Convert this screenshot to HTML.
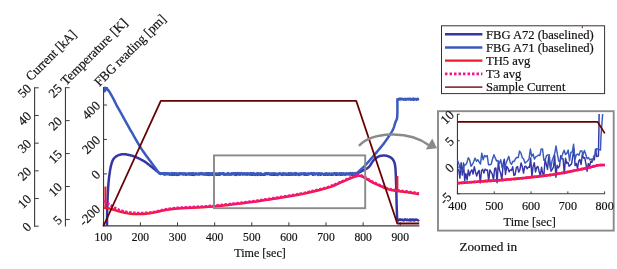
<!DOCTYPE html>
<html><head><meta charset="utf-8"><style>
html,body{margin:0;padding:0;background:#fff;}
svg{display:block;will-change:transform;}
text{font-family:"Liberation Serif", serif;fill:#111;stroke:#111;stroke-width:0.2px;}
</style></head><body>
<svg width="617" height="269" viewBox="0 0 617 269">
<line x1="102.8" y1="225.9" x2="419.4" y2="225.9" stroke="#3a3a3a" stroke-width="1.1"/>
<line x1="103.30" y1="225.9" x2="103.30" y2="222.3" stroke="#3a3a3a" stroke-width="1"/>
<text x="103.30" y="240.9" font-size="12.6" text-anchor="middle" textLength="17.4" lengthAdjust="spacingAndGlyphs" >100</text>
<line x1="140.42" y1="225.9" x2="140.42" y2="222.3" stroke="#3a3a3a" stroke-width="1"/>
<text x="140.42" y="240.9" font-size="12.6" text-anchor="middle" textLength="17.4" lengthAdjust="spacingAndGlyphs" >200</text>
<line x1="177.54" y1="225.9" x2="177.54" y2="222.3" stroke="#3a3a3a" stroke-width="1"/>
<text x="177.54" y="240.9" font-size="12.6" text-anchor="middle" textLength="17.4" lengthAdjust="spacingAndGlyphs" >300</text>
<line x1="214.66" y1="225.9" x2="214.66" y2="222.3" stroke="#3a3a3a" stroke-width="1"/>
<text x="214.66" y="240.9" font-size="12.6" text-anchor="middle" textLength="17.4" lengthAdjust="spacingAndGlyphs" >400</text>
<line x1="251.78" y1="225.9" x2="251.78" y2="222.3" stroke="#3a3a3a" stroke-width="1"/>
<text x="251.78" y="240.9" font-size="12.6" text-anchor="middle" textLength="17.4" lengthAdjust="spacingAndGlyphs" >500</text>
<line x1="288.90" y1="225.9" x2="288.90" y2="222.3" stroke="#3a3a3a" stroke-width="1"/>
<text x="288.90" y="240.9" font-size="12.6" text-anchor="middle" textLength="17.4" lengthAdjust="spacingAndGlyphs" >600</text>
<line x1="326.02" y1="225.9" x2="326.02" y2="222.3" stroke="#3a3a3a" stroke-width="1"/>
<text x="326.02" y="240.9" font-size="12.6" text-anchor="middle" textLength="17.4" lengthAdjust="spacingAndGlyphs" >700</text>
<line x1="363.14" y1="225.9" x2="363.14" y2="222.3" stroke="#3a3a3a" stroke-width="1"/>
<text x="363.14" y="240.9" font-size="12.6" text-anchor="middle" textLength="17.4" lengthAdjust="spacingAndGlyphs" >800</text>
<line x1="400.26" y1="225.9" x2="400.26" y2="222.3" stroke="#3a3a3a" stroke-width="1"/>
<text x="400.26" y="240.9" font-size="12.6" text-anchor="middle" textLength="17.4" lengthAdjust="spacingAndGlyphs" >900</text>
<text x="260.0" y="256.7" font-size="13.2" text-anchor="middle" textLength="51.6" lengthAdjust="spacingAndGlyphs" >Time [sec]</text>
<line x1="103.55" y1="87.0" x2="103.55" y2="226.4" stroke="#3a3a3a" stroke-width="1.1"/>
<line x1="103.55" y1="105.00" x2="106.95" y2="105.00" stroke="#3a3a3a" stroke-width="1"/>
<text x="101.05" y="106.5" font-size="13.0" text-anchor="end" transform="rotate(-45 101.05 106.5)" >400</text>
<line x1="103.55" y1="139.45" x2="106.95" y2="139.45" stroke="#3a3a3a" stroke-width="1"/>
<text x="101.05" y="140.95" font-size="13.0" text-anchor="end" transform="rotate(-45 101.05 140.95)" >200</text>
<line x1="103.55" y1="173.90" x2="106.95" y2="173.90" stroke="#3a3a3a" stroke-width="1"/>
<text x="101.05" y="175.4" font-size="13.0" text-anchor="end" transform="rotate(-45 101.05 175.4)" >0</text>
<line x1="103.55" y1="208.35" x2="106.95" y2="208.35" stroke="#3a3a3a" stroke-width="1"/>
<text x="101.05" y="209.85" font-size="13.0" text-anchor="end" transform="rotate(-45 101.05 209.85)" >-200</text>
<line x1="65.45" y1="87.2" x2="65.45" y2="226.4" stroke="#3a3a3a" stroke-width="1.1"/>
<line x1="65.45" y1="87.70" x2="69.65" y2="87.70" stroke="#3a3a3a" stroke-width="1"/>
<text x="62.95" y="89.2" font-size="13.0" text-anchor="end" transform="rotate(-45 62.95 89.2)" >25</text>
<line x1="65.45" y1="120.64" x2="69.65" y2="120.64" stroke="#3a3a3a" stroke-width="1"/>
<text x="62.95" y="122.14" font-size="13.0" text-anchor="end" transform="rotate(-45 62.95 122.14)" >20</text>
<line x1="65.45" y1="153.57" x2="69.65" y2="153.57" stroke="#3a3a3a" stroke-width="1"/>
<text x="62.95" y="155.07" font-size="13.0" text-anchor="end" transform="rotate(-45 62.95 155.07)" >15</text>
<line x1="65.45" y1="186.51" x2="69.65" y2="186.51" stroke="#3a3a3a" stroke-width="1"/>
<text x="62.95" y="188.01" font-size="13.0" text-anchor="end" transform="rotate(-45 62.95 188.01)" >10</text>
<line x1="65.45" y1="219.45" x2="69.65" y2="219.45" stroke="#3a3a3a" stroke-width="1"/>
<text x="62.95" y="220.95" font-size="13.0" text-anchor="end" transform="rotate(-45 62.95 220.95)" >5</text>
<line x1="34.6" y1="87.3" x2="34.6" y2="226.7" stroke="#3a3a3a" stroke-width="1.1"/>
<line x1="34.6" y1="87.80" x2="38.7" y2="87.80" stroke="#3a3a3a" stroke-width="1"/>
<text x="32.1" y="89.3" font-size="13.0" text-anchor="end" transform="rotate(-45 32.1 89.3)" >50</text>
<line x1="34.6" y1="115.48" x2="38.7" y2="115.48" stroke="#3a3a3a" stroke-width="1"/>
<text x="32.1" y="116.98" font-size="13.0" text-anchor="end" transform="rotate(-45 32.1 116.98)" >40</text>
<line x1="34.6" y1="143.16" x2="38.7" y2="143.16" stroke="#3a3a3a" stroke-width="1"/>
<text x="32.1" y="144.66" font-size="13.0" text-anchor="end" transform="rotate(-45 32.1 144.66)" >30</text>
<line x1="34.6" y1="170.84" x2="38.7" y2="170.84" stroke="#3a3a3a" stroke-width="1"/>
<text x="32.1" y="172.34" font-size="13.0" text-anchor="end" transform="rotate(-45 32.1 172.34)" >20</text>
<line x1="34.6" y1="198.52" x2="38.7" y2="198.52" stroke="#3a3a3a" stroke-width="1"/>
<text x="32.1" y="200.02" font-size="13.0" text-anchor="end" transform="rotate(-45 32.1 200.02)" >10</text>
<line x1="34.6" y1="226.20" x2="38.7" y2="226.20" stroke="#3a3a3a" stroke-width="1"/>
<text x="32.1" y="227.7" font-size="13.0" text-anchor="end" transform="rotate(-45 32.1 227.7)" >0</text>
<text x="31" y="81.5" font-size="13.2" text-anchor="start" transform="rotate(-45 31 81.5)" textLength="65.4" lengthAdjust="spacingAndGlyphs" >Current [kA]</text>
<text x="66" y="86" font-size="13.2" text-anchor="start" transform="rotate(-45 66 86)" >Temperature [K]</text>
<text x="99.5" y="87" font-size="13.2" text-anchor="start" transform="rotate(-45 99.5 87)" textLength="95.2" lengthAdjust="spacingAndGlyphs" >FBG reading [pm]</text>
<polyline points="107.00,226.00 107.01,224.79 107.02,223.22 107.03,221.35 107.05,219.25 107.07,217.00 107.10,214.66 107.14,212.30 107.20,210.00 107.27,207.64 107.35,205.09 107.45,202.44 107.55,199.75 107.66,197.09 107.77,194.53 107.89,192.14 108.00,190.00 108.11,188.10 108.22,186.39 108.34,184.83 108.46,183.38 108.58,182.00 108.71,180.67 108.85,179.35 109.00,178.00 109.16,176.62 109.34,175.26 109.53,173.91 109.72,172.61 109.92,171.35 110.11,170.15 110.31,169.03 110.50,168.00 110.69,167.07 110.88,166.22 111.06,165.44 111.25,164.73 111.44,164.07 111.62,163.46 111.81,162.87 112.00,162.30 112.18,161.77 112.35,161.29 112.52,160.85 112.69,160.44 112.86,160.07 113.05,159.71 113.26,159.35 113.50,159.00 113.76,158.65 114.04,158.32 114.34,158.00 114.66,157.69 114.98,157.40 115.32,157.12 115.66,156.86 116.00,156.60 116.34,156.36 116.68,156.12 117.03,155.91 117.38,155.70 117.75,155.51 118.14,155.32 118.55,155.16 119.00,155.00 119.48,154.85 120.00,154.71 120.54,154.58 121.10,154.46 121.67,154.36 122.25,154.28 122.83,154.23 123.40,154.20 123.96,154.20 124.51,154.23 125.06,154.28 125.61,154.36 126.18,154.45 126.76,154.55 127.37,154.67 128.00,154.80 128.66,154.94 129.36,155.08 130.07,155.24 130.80,155.42 131.54,155.61 132.29,155.82 133.05,156.05 133.80,156.30 134.56,156.58 135.33,156.88 136.12,157.20 136.91,157.54 137.69,157.89 138.48,158.25 139.25,158.63 140.00,159.00 140.74,159.38 141.48,159.77 142.21,160.18 142.94,160.59 143.65,161.01 144.35,161.43 145.03,161.86 145.70,162.30 146.35,162.75 146.98,163.21 147.60,163.68 148.21,164.16 148.80,164.63 149.38,165.10 149.94,165.56 150.50,166.00 151.04,166.43 151.57,166.84 152.08,167.25 152.58,167.66 153.07,168.05 153.55,168.44 154.03,168.82 154.50,169.20 154.96,169.58 155.42,169.95 155.87,170.32 156.31,170.69 156.75,171.04 157.17,171.38 157.59,171.70 158.00,172.00 158.42,172.29 158.86,172.56 159.29,172.83 159.72,173.07 160.12,173.30 160.47,173.50 160.77,173.67 161.00,173.80 161.00,173.65 161.60,173.73 162.20,173.57 162.80,173.78 163.40,173.94 164.00,173.93 164.60,174.56 165.20,173.91 165.80,174.20 166.40,173.75 167.00,173.99 167.60,173.53 168.20,173.85 168.80,173.52 169.40,174.53 170.00,174.27 170.60,173.77 171.20,174.16 171.80,174.81 172.40,173.65 173.00,174.65 173.60,174.11 174.20,174.19 174.80,174.67 175.40,174.05 176.00,174.21 176.60,174.46 177.20,174.88 177.80,173.98 178.40,174.67 179.00,174.49 179.60,174.39 180.20,174.07 180.80,173.99 181.40,173.58 182.00,173.68 182.60,173.60 183.20,174.54 183.80,173.86 184.40,173.73 185.00,173.62 185.60,174.68 186.20,174.72 186.80,174.44 187.40,173.89 188.00,173.84 188.60,173.91 189.20,174.14 189.80,173.72 190.40,174.12 191.00,173.87 191.60,174.85 192.20,174.86 192.80,174.27 193.40,173.84 194.00,174.85 194.60,173.93 195.20,174.00 195.80,173.50 196.40,174.03 197.00,174.16 197.60,174.20 198.20,173.78 198.80,174.21 199.40,173.51 200.00,173.87 200.60,173.63 201.20,174.06 201.80,173.56 202.40,173.53 203.00,173.93 203.60,173.83 204.20,174.32 204.80,174.24 205.40,174.55 206.00,174.42 206.60,174.50 207.20,174.73 207.80,174.05 208.40,173.96 209.00,174.88 209.60,173.71 210.20,174.51 210.80,174.40 211.40,173.56 212.00,174.67 212.60,174.75 213.20,174.38 213.80,174.53 214.40,174.64 215.00,173.70 215.60,174.23 216.20,174.21 216.80,174.67 217.40,174.63 218.00,174.66 218.60,174.32 219.20,174.75 219.80,174.46 220.40,174.47 221.00,173.82 221.60,173.54 222.20,173.69 222.80,174.00 223.40,173.65 224.00,174.67 224.60,174.28 225.20,174.38 225.80,174.38 226.40,174.45 227.00,174.19 227.60,173.50 228.20,174.62 228.80,174.55 229.40,174.20 230.00,174.25 230.60,174.42 231.20,173.59 231.80,174.53 232.40,173.85 233.00,173.60 233.60,173.87 234.20,174.52 234.80,173.79 235.40,174.54 236.00,174.87 236.60,174.19 237.20,174.04 237.80,174.17 238.40,174.46 239.00,174.57 239.60,174.36 240.20,174.40 240.80,173.61 241.40,173.71 242.00,173.86 242.60,174.54 243.20,173.93 243.80,174.29 244.40,173.52 245.00,173.58 245.60,173.88 246.20,174.44 246.80,174.47 247.40,174.45 248.00,173.91 248.60,174.22 249.20,174.15 249.80,174.15 250.40,173.67 251.00,174.75 251.60,173.78 252.20,174.87 252.80,174.81 253.40,173.52 254.00,174.14 254.60,174.65 255.20,174.86 255.80,174.13 256.40,173.88 257.00,173.79 257.60,174.82 258.20,173.79 258.80,174.31 259.40,173.70 260.00,174.23 260.60,174.83 261.20,173.69 261.80,174.65 262.40,174.21 263.00,174.74 263.60,174.48 264.20,173.82 264.80,174.76 265.40,174.18 266.00,173.53 266.60,173.51 267.20,174.19 267.80,174.13 268.40,173.92 269.00,173.70 269.60,173.98 270.20,173.94 270.80,174.68 271.40,173.50 272.00,174.55 272.60,174.67 273.20,173.67 273.80,174.80 274.40,174.50 275.00,174.76 275.60,173.91 276.20,174.02 276.80,174.05 277.40,174.90 278.00,174.32 278.60,174.00 279.20,174.10 279.80,173.89 280.40,173.57 281.00,173.64 281.60,174.67 282.20,173.90 282.80,174.81 283.40,173.85 284.00,173.87 284.60,174.22 285.20,173.77 285.80,174.02 286.40,174.84 287.00,174.74 287.60,174.64 288.20,174.38 288.80,174.78 289.40,174.82 290.00,174.27 290.60,174.51 291.20,173.57 291.80,174.53 292.40,174.13 293.00,174.55 293.60,174.40 294.20,173.90 294.80,173.57 295.40,174.80 296.00,173.68 296.60,174.16 297.20,173.98 297.80,173.92 298.40,174.53 299.00,174.87 299.60,173.86 300.20,174.42 300.80,173.92 301.40,174.28 302.00,174.05 302.60,173.73 303.20,173.73 303.80,173.79 304.40,174.77 305.00,174.20 305.60,173.81 306.20,174.77 306.80,174.90 307.40,174.13 308.00,173.70 308.60,173.77 309.20,173.63 309.80,173.98 310.40,173.63 311.00,173.83 311.60,173.86 312.20,174.30 312.80,174.74 313.40,174.55 314.00,174.08 314.60,174.08 315.20,174.23 315.80,174.03 316.40,173.97 317.00,173.59 317.60,173.89 318.20,174.85 318.80,173.68 319.40,174.20 320.00,174.38 320.60,174.71 321.20,173.80 321.80,173.88 322.40,173.85 323.00,174.06 323.60,174.12 324.20,174.84 324.80,174.69 325.40,174.72 326.00,173.53 326.60,173.55 327.20,174.49 327.80,174.75 328.40,174.16 329.00,174.32 329.60,173.50 330.20,174.05 330.80,174.80 331.40,174.66 332.00,174.70 332.60,174.86 333.20,173.85 333.80,173.65 334.40,173.72 335.00,174.23 335.60,174.45 336.20,174.82 336.80,174.51 337.40,174.41 338.00,174.57 338.60,174.14 339.20,174.27 339.80,173.56 340.40,174.60 341.00,173.83 341.60,174.79 342.20,174.40 342.80,173.93 343.40,173.68 344.00,173.85 344.60,174.39 345.20,174.48 345.80,173.66 346.40,173.60 347.00,174.23 347.60,174.32 348.20,174.04 348.80,173.81 349.40,174.34 350.00,173.51 350.60,173.92 351.20,174.14 351.80,174.84 352.40,174.40 353.00,174.74 353.60,174.17 354.20,173.83 354.80,173.85 355.40,174.84 356.00,174.49 357.00,173.50 357.37,173.32 357.86,173.08 358.44,172.80 359.09,172.49 359.79,172.14 360.52,171.78 361.26,171.39 362.00,171.00 362.76,170.60 363.59,170.20 364.45,169.78 365.34,169.33 366.22,168.86 367.07,168.35 367.87,167.80 368.60,167.20 369.26,166.52 369.89,165.74 370.47,164.91 371.03,164.05 371.55,163.20 372.05,162.38 372.53,161.64 373.00,161.00 373.44,160.47 373.83,160.00 374.18,159.60 374.52,159.24 374.86,158.91 375.21,158.60 375.59,158.31 376.00,158.00 376.46,157.69 376.94,157.39 377.45,157.11 377.97,156.84 378.49,156.59 379.01,156.36 379.52,156.17 380.00,156.00 380.46,155.87 380.91,155.77 381.35,155.70 381.78,155.66 382.21,155.63 382.64,155.61 383.07,155.61 383.50,155.60 383.93,155.59 384.37,155.59 384.79,155.60 385.22,155.62 385.66,155.65 386.10,155.71 386.54,155.79 387.00,155.90 387.48,156.04 387.98,156.20 388.49,156.38 389.01,156.59 389.52,156.81 390.01,157.06 390.47,157.32 390.90,157.60 391.29,157.89 391.67,158.20 392.02,158.53 392.35,158.88 392.66,159.24 392.96,159.63 393.24,160.05 393.50,160.50 393.75,160.96 393.97,161.43 394.18,161.92 394.37,162.43 394.54,162.99 394.71,163.59 394.86,164.26 395.00,165.00 395.13,165.77 395.23,166.54 395.33,167.35 395.41,168.22 395.48,169.19 395.55,170.29 395.62,171.55 395.70,173.00 395.78,174.67 395.86,176.55 395.94,178.58 396.01,180.75 396.09,183.01 396.16,185.33 396.23,187.67 396.30,190.00 396.37,192.43 396.43,195.03 396.49,197.73 396.55,200.45 396.61,203.12 396.67,205.65 396.73,207.97 396.80,210.00 396.86,211.78 396.92,213.39 396.97,214.85 397.03,216.14 397.10,217.28 397.18,218.27 397.28,219.11 397.40,219.80 397.56,220.28 397.77,220.51 398.00,220.55 398.24,220.46 398.47,220.30 398.69,220.11 398.87,219.96 399.00,219.90 399.60,219.67 400.20,219.33 400.80,219.90 401.40,220.11 402.00,219.80 402.60,219.61 403.20,220.10 403.80,220.41 404.40,219.57 405.00,219.34 405.60,219.71 406.20,219.80 406.80,220.12 407.40,219.54 408.00,220.26 408.60,220.19 409.20,219.91 409.80,219.55 410.40,220.46 411.00,219.67 411.60,220.28 412.20,219.58 412.80,219.57 413.40,220.21 414.00,219.65 414.60,220.44 415.20,219.89 415.80,219.52 416.40,219.57 417.00,219.80 417.60,220.10 418.20,220.44 418.80,219.48" fill="none" stroke="#3535a5" stroke-width="2.5" stroke-linejoin="round" stroke-linecap="butt" />
<polyline points="104.00,87.60 104.18,87.65 104.42,87.72 104.70,87.79 105.02,87.87 105.35,87.98 105.69,88.10 106.01,88.24 106.30,88.40 106.58,88.59 106.85,88.81 107.12,89.05 107.39,89.31 107.66,89.58 107.91,89.85 108.16,90.13 108.40,90.40 108.61,90.64 108.79,90.85 108.94,91.05 109.10,91.26 109.27,91.50 109.46,91.81 109.70,92.20 110.00,92.70 110.37,93.33 110.80,94.08 111.27,94.93 111.77,95.83 112.28,96.75 112.78,97.68 113.26,98.57 113.70,99.40 114.09,100.17 114.46,100.91 114.81,101.64 115.14,102.35 115.48,103.06 115.83,103.79 116.20,104.53 116.60,105.30 117.03,106.10 117.49,106.92 117.96,107.75 118.45,108.60 118.94,109.45 119.44,110.31 119.92,111.16 120.40,112.00 120.87,112.84 121.33,113.67 121.79,114.51 122.26,115.35 122.72,116.19 123.18,117.03 123.64,117.86 124.10,118.70 124.55,119.52 124.99,120.32 125.42,121.11 125.86,121.90 126.30,122.71 126.77,123.56 127.27,124.45 127.80,125.40 128.37,126.41 128.96,127.45 129.57,128.53 130.21,129.64 130.87,130.80 131.56,131.99 132.27,133.23 133.00,134.50 133.78,135.86 134.60,137.31 135.46,138.83 136.34,140.38 137.22,141.91 138.09,143.40 138.92,144.81 139.70,146.10 140.43,147.27 141.13,148.36 141.79,149.37 142.44,150.34 143.08,151.27 143.71,152.17 144.35,153.08 145.00,154.00 145.66,154.92 146.32,155.83 146.97,156.71 147.63,157.59 148.28,158.45 148.93,159.31 149.57,160.16 150.20,161.00 150.82,161.84 151.44,162.67 152.05,163.50 152.66,164.31 153.25,165.12 153.84,165.92 154.43,166.71 155.00,167.50 155.59,168.31 156.21,169.18 156.84,170.05 157.45,170.91 158.02,171.71 158.54,172.43 158.97,173.04 159.30,173.50 159.50,173.55 160.10,173.31 160.70,174.01 161.30,173.20 161.90,173.85 162.50,173.61 163.10,173.18 163.70,173.81 164.30,173.15 164.90,173.71 165.50,173.20 166.10,173.23 166.70,173.69 167.30,174.26 167.90,173.27 168.50,173.41 169.10,173.98 169.70,174.43 170.30,173.91 170.90,173.66 171.50,174.47 172.10,173.17 172.70,174.30 173.30,173.51 173.90,173.30 174.50,173.26 175.10,173.53 175.70,174.24 176.30,173.35 176.90,173.91 177.50,173.99 178.10,173.62 178.70,173.87 179.30,173.19 179.90,173.18 180.50,173.39 181.10,174.05 181.70,173.70 182.30,173.54 182.90,173.92 183.50,173.73 184.10,173.52 184.70,174.21 185.30,174.08 185.90,173.44 186.50,173.90 187.10,173.84 187.70,174.33 188.30,174.12 188.90,173.50 189.50,174.47 190.10,173.27 190.70,173.69 191.30,174.16 191.90,173.31 192.50,173.78 193.10,173.15 193.70,174.04 194.30,174.17 194.90,173.90 195.50,174.33 196.10,173.54 196.70,174.07 197.30,173.93 197.90,173.91 198.50,173.74 199.10,174.28 199.70,174.42 200.30,173.76 200.90,174.03 201.50,173.18 202.10,174.08 202.70,174.01 203.30,174.49 203.90,174.25 204.50,173.50 205.10,173.64 205.70,174.04 206.30,173.13 206.90,173.75 207.50,173.34 208.10,173.26 208.70,173.18 209.30,174.18 209.90,173.28 210.50,173.45 211.10,173.65 211.70,174.32 212.30,173.21 212.90,173.73 213.50,173.87 214.10,174.34 214.70,174.25 215.30,174.31 215.90,173.49 216.50,173.68 217.10,173.60 217.70,174.34 218.30,174.44 218.90,173.31 219.50,173.35 220.10,173.42 220.70,173.43 221.30,173.78 221.90,173.92 222.50,173.47 223.10,173.11 223.70,173.69 224.30,173.62 224.90,173.89 225.50,174.43 226.10,174.07 226.70,173.82 227.30,173.96 227.90,174.05 228.50,173.18 229.10,174.36 229.70,174.19 230.30,174.32 230.90,174.22 231.50,173.65 232.10,173.66 232.70,173.24 233.30,173.99 233.90,173.19 234.50,173.19 235.10,173.39 235.70,173.33 236.30,173.58 236.90,173.17 237.50,173.10 238.10,173.31 238.70,173.24 239.30,173.61 239.90,173.14 240.50,174.32 241.10,173.96 241.70,173.31 242.30,173.45 242.90,173.59 243.50,173.61 244.10,173.27 244.70,174.29 245.30,174.49 245.90,173.75 246.50,173.78 247.10,173.22 247.70,173.24 248.30,173.58 248.90,173.47 249.50,174.26 250.10,173.33 250.70,173.13 251.30,174.43 251.90,173.84 252.50,173.31 253.10,173.86 253.70,173.14 254.30,173.84 254.90,174.47 255.50,174.31 256.10,174.07 256.70,173.47 257.30,173.61 257.90,173.33 258.50,174.18 259.10,173.85 259.70,174.19 260.30,173.56 260.90,173.41 261.50,174.24 262.10,174.48 262.70,174.29 263.30,174.23 263.90,174.25 264.50,174.14 265.10,173.42 265.70,173.82 266.30,173.60 266.90,173.14 267.50,173.14 268.10,173.49 268.70,173.46 269.30,174.07 269.90,174.44 270.50,173.73 271.10,174.41 271.70,174.48 272.30,174.44 272.90,173.61 273.50,173.41 274.10,173.42 274.70,173.38 275.30,173.39 275.90,173.97 276.50,174.36 277.10,174.28 277.70,173.77 278.30,174.01 278.90,174.22 279.50,173.22 280.10,174.02 280.70,174.37 281.30,174.20 281.90,174.15 282.50,173.77 283.10,173.35 283.70,174.20 284.30,173.57 284.90,174.22 285.50,174.46 286.10,173.65 286.70,173.66 287.30,174.43 287.90,174.11 288.50,173.34 289.10,173.28 289.70,173.31 290.30,174.37 290.90,174.23 291.50,173.30 292.10,174.26 292.70,174.47 293.30,174.02 293.90,173.59 294.50,173.87 295.10,173.28 295.70,173.12 296.30,174.46 296.90,174.01 297.50,173.84 298.10,174.41 298.70,173.71 299.30,174.32 299.90,174.26 300.50,173.40 301.10,173.45 301.70,173.51 302.30,173.44 302.90,173.92 303.50,173.46 304.10,173.69 304.70,173.28 305.30,174.37 305.90,173.60 306.50,173.74 307.10,173.92 307.70,174.37 308.30,173.69 308.90,174.38 309.50,173.80 310.10,173.84 310.70,173.83 311.30,173.13 311.90,173.72 312.50,173.36 313.10,173.11 313.70,174.22 314.30,173.34 314.90,173.76 315.50,174.12 316.10,173.88 316.70,173.56 317.30,173.83 317.90,173.88 318.50,174.20 319.10,173.25 319.70,173.88 320.30,173.45 320.90,173.49 321.50,174.18 322.10,173.81 322.70,173.89 323.30,174.16 323.90,174.38 324.50,173.72 325.10,173.96 325.70,173.81 326.30,173.82 326.90,174.07 327.50,173.73 328.10,173.85 328.70,173.77 329.30,174.42 329.90,174.08 330.50,174.33 331.10,174.42 331.70,173.46 332.30,173.88 332.90,174.42 333.50,174.28 334.10,173.29 334.70,173.27 335.30,173.72 335.90,173.20 336.50,173.44 337.10,173.20 337.70,174.04 338.30,174.20 338.90,174.36 339.50,173.32 340.10,174.10 340.70,174.02 341.30,173.30 341.90,174.34 342.50,174.45 343.10,173.41 343.70,174.43 344.30,173.66 344.90,173.78 345.50,174.49 346.10,174.27 346.70,173.33 347.30,173.70 347.90,173.82 348.50,173.57 349.10,173.37 349.70,173.55 350.30,174.11 350.90,173.13 351.50,173.88 352.10,173.72 352.70,173.13 353.30,173.56 353.90,173.97 354.50,173.82 355.10,173.19 355.70,174.48 356.50,173.40 356.92,173.04 357.46,172.57 358.11,172.01 358.84,171.38 359.62,170.70 360.42,169.98 361.22,169.24 362.00,168.50 362.74,167.77 363.47,167.06 364.20,166.33 364.95,165.56 365.75,164.72 366.61,163.80 367.55,162.77 368.60,161.60 369.80,160.23 371.17,158.66 372.64,156.96 374.17,155.18 375.69,153.38 377.16,151.65 378.51,150.03 379.70,148.60 380.72,147.37 381.61,146.28 382.41,145.29 383.14,144.36 383.83,143.46 384.52,142.54 385.24,141.57 386.00,140.50 386.83,139.33 387.69,138.10 388.58,136.82 389.46,135.53 390.31,134.22 391.12,132.94 391.85,131.69 392.50,130.50 393.05,129.34 393.53,128.19 393.94,127.06 394.30,125.95 394.62,124.88 394.92,123.86 395.21,122.89 395.50,122.00 395.78,121.28 396.05,120.76 396.30,120.35 396.53,119.97 396.73,119.51 396.91,118.89 397.07,118.02 397.20,116.80 397.30,115.07 397.36,112.86 397.39,110.33 397.41,107.67 397.41,105.06 397.40,102.65 397.39,100.64 397.40,99.20 398.00,99.55 398.60,99.77 399.20,98.73 399.80,98.92 400.40,98.65 401.00,99.53 401.60,98.92 402.20,98.76 402.80,99.11 403.40,99.69 404.00,99.58 404.60,98.91 405.20,98.78 405.80,99.70 406.40,99.28 407.00,99.44 407.60,98.71 408.20,98.67 408.80,99.43 409.40,99.11 410.00,98.69 410.60,99.73 411.20,99.36 411.80,99.56 412.40,98.70 413.00,99.63 413.60,98.68 414.20,99.64 414.80,99.14 415.40,99.01 416.00,99.26 416.60,99.71 417.20,98.92 417.80,98.76 418.40,99.23 419.00,98.89" fill="none" stroke="#3a5bbd" stroke-width="2.5" stroke-linejoin="round" stroke-linecap="butt" />
<polygon points="103.9,87.0 107.9,87.1 108.3,89.6 106.6,90.6 105.2,92.6 104.0,92.6" fill="#3a5bbd"/>
<polyline points="104.20,207.80 104.62,207.85 105.14,207.89 105.77,207.94 106.48,208.01 107.26,208.10 108.12,208.23 109.03,208.39 110.00,208.60 111.03,208.87 112.12,209.21 113.29,209.59 114.53,210.00 115.82,210.42 117.16,210.84 118.56,211.24 120.00,211.60 121.49,211.95 123.04,212.32 124.64,212.68 126.29,213.04 127.99,213.36 129.75,213.64 131.55,213.86 133.40,214.00 135.28,214.08 137.18,214.10 139.12,214.08 141.12,214.01 143.19,213.89 145.35,213.71 147.61,213.48 150.00,213.20 152.42,212.83 154.82,212.35 157.27,211.80 159.84,211.21 162.59,210.61 165.61,210.02 168.95,209.47 172.70,209.00 176.95,208.61 181.68,208.28 186.78,207.99 192.11,207.71 197.57,207.44 203.04,207.14 208.39,206.80 213.50,206.40 218.46,205.94 223.42,205.44 228.35,204.91 233.24,204.35 238.07,203.77 242.82,203.18 247.47,202.59 252.00,202.00 256.48,201.39 260.96,200.75 265.38,200.10 269.71,199.44 273.88,198.78 277.85,198.15 281.57,197.55 285.00,197.00 288.03,196.52 290.66,196.10 293.00,195.72 295.16,195.36 297.25,195.00 299.38,194.60 301.66,194.14 304.20,193.60 307.04,192.97 310.11,192.28 313.30,191.54 316.54,190.76 319.75,189.96 322.84,189.16 325.71,188.37 328.30,187.60 330.62,186.83 332.77,186.03 334.76,185.22 336.61,184.42 338.32,183.64 339.91,182.90 341.40,182.21 342.80,181.60 344.05,181.07 345.12,180.60 346.05,180.19 346.88,179.82 347.64,179.48 348.39,179.16 349.16,178.83 350.00,178.50 350.89,178.15 351.79,177.79 352.68,177.43 353.57,177.08 354.45,176.76 355.30,176.49 356.12,176.26 356.90,176.10 357.60,175.98 358.20,175.87 358.75,175.80 359.28,175.78 359.84,175.82 360.47,175.95 361.21,176.17 362.10,176.50 363.15,176.98 364.33,177.62 365.62,178.36 366.98,179.18 368.37,180.03 369.78,180.88 371.16,181.68 372.50,182.40 373.83,183.06 375.19,183.71 376.57,184.35 377.94,184.96 379.29,185.55 380.57,186.11 381.79,186.63 382.90,187.10 383.89,187.53 384.77,187.91 385.57,188.25 386.31,188.56 387.04,188.84 387.77,189.10 388.55,189.36 389.40,189.60 390.30,189.83 391.20,190.03 392.12,190.21 393.06,190.38 394.03,190.53 395.04,190.68 396.09,190.84 397.20,191.00 398.37,191.16 399.59,191.32 400.87,191.47 402.17,191.62 403.51,191.77 404.87,191.94 406.23,192.11 407.60,192.30 409.06,192.52 410.65,192.78 412.30,193.05 413.95,193.33 415.52,193.60 416.93,193.84 418.11,194.05 419.00,194.20" fill="none" stroke="#ee1c24" stroke-width="2.5" stroke-linejoin="round" stroke-linecap="butt" />
<line x1="105.4" y1="186.5" x2="105.4" y2="208" stroke="#ee1c24" stroke-width="2"/>
<line x1="397.4" y1="176" x2="397.4" y2="191.5" stroke="#ee1c24" stroke-width="2"/>
<polyline points="104.20,200.50 104.49,200.74 104.89,201.05 105.35,201.43 105.87,201.85 106.42,202.29 106.97,202.72 107.50,203.13 108.00,203.50 108.44,203.82 108.82,204.10 109.19,204.36 109.57,204.61 109.98,204.88 110.45,205.17 111.02,205.51 111.70,205.90 112.48,206.37 113.33,206.90 114.25,207.49 115.24,208.09 116.31,208.70 117.46,209.29 118.69,209.83 120.00,210.30 121.41,210.72 122.92,211.12 124.51,211.50 126.18,211.84 127.92,212.14 129.71,212.41 131.54,212.63 133.40,212.80 135.28,212.93 137.18,213.03 139.12,213.10 141.12,213.12 143.19,213.09 145.35,212.99 147.61,212.83 150.00,212.60 152.42,212.26 154.82,211.79 157.27,211.25 159.84,210.65 162.59,210.03 165.61,209.43 168.95,208.88 172.70,208.40 176.95,208.01 181.68,207.68 186.78,207.39 192.11,207.11 197.57,206.84 203.04,206.54 208.39,206.20 213.50,205.80 218.46,205.34 223.42,204.84 228.35,204.31 233.24,203.75 238.07,203.17 242.82,202.58 247.47,201.99 252.00,201.40 256.48,200.79 260.96,200.15 265.38,199.50 269.71,198.84 273.88,198.18 277.85,197.55 281.57,196.95 285.00,196.40 288.03,195.92 290.66,195.50 293.00,195.12 295.16,194.76 297.25,194.40 299.38,194.00 301.66,193.54 304.20,193.00 307.04,192.37 310.11,191.68 313.30,190.94 316.54,190.16 319.75,189.36 322.84,188.56 325.71,187.77 328.30,187.00 330.62,186.23 332.77,185.43 334.76,184.62 336.61,183.82 338.32,183.04 339.91,182.30 341.40,181.61 342.80,181.00 344.05,180.47 345.12,180.00 346.05,179.59 346.88,179.23 347.64,178.88 348.39,178.56 349.16,178.23 350.00,177.90 350.89,177.55 351.79,177.19 352.68,176.83 353.57,176.48 354.45,176.16 355.30,175.89 356.12,175.66 356.90,175.50 357.60,175.38 358.20,175.27 358.75,175.20 359.28,175.18 359.84,175.22 360.47,175.35 361.21,175.57 362.10,175.90 363.15,176.38 364.33,177.02 365.62,177.76 366.98,178.58 368.37,179.43 369.78,180.28 371.16,181.08 372.50,181.80 373.83,182.46 375.19,183.11 376.57,183.75 377.94,184.36 379.29,184.95 380.57,185.51 381.79,186.03 382.90,186.50 383.89,186.93 384.77,187.31 385.57,187.65 386.31,187.96 387.04,188.24 387.77,188.50 388.55,188.76 389.40,189.00 390.30,189.23 391.20,189.43 392.12,189.61 393.06,189.78 394.03,189.93 395.04,190.08 396.09,190.24 397.20,190.40 398.37,190.56 399.59,190.72 400.87,190.87 402.17,191.02 403.51,191.17 404.87,191.34 406.23,191.51 407.60,191.70 409.06,191.92 410.65,192.18 412.30,192.45 413.95,192.73 415.52,193.00 416.93,193.24 418.11,193.45 419.00,193.60" fill="none" stroke="#f4148f" stroke-width="2.8" stroke-linejoin="round" stroke-linecap="butt" stroke-dasharray="2.5 1.5"/>
<polyline points="103.50,226.00 160.80,100.80 356.20,100.80 397.30,223.50 419.20,223.50" fill="none" stroke="#660202" stroke-width="1.8" stroke-linejoin="round" stroke-linecap="butt" />
<rect x="214.0" y="155.4" width="151.2" height="52.8" fill="none" stroke="#8a8a8a" stroke-width="1.9"/>
<path d="M358.9,145.8 C372,132.3 408,129.5 429,145.3" fill="none" stroke="#8a8a8a" stroke-width="2.4" stroke-linejoin="round" />
<polygon points="432.2,138.6 425.8,149.6 437.0,148.2" fill="#8a8a8a"/>
<rect x="438.0" y="111.2" width="175.7" height="119.4" fill="none" stroke="#8a8a8a" stroke-width="1.9"/>
<line x1="457.45" y1="114.1" x2="457.45" y2="194.3" stroke="#3a3a3a" stroke-width="1.1"/>
<line x1="456.95" y1="193.8" x2="604.9499999999999" y2="193.8" stroke="#3a3a3a" stroke-width="1.1"/>
<line x1="457.45" y1="193.8" x2="457.45" y2="191.4" stroke="#3a3a3a" stroke-width="1"/>
<text x="457.45" y="209.5" font-size="12.6" text-anchor="middle" textLength="18.2" lengthAdjust="spacingAndGlyphs" >400</text>
<line x1="494.25" y1="193.8" x2="494.25" y2="191.4" stroke="#3a3a3a" stroke-width="1"/>
<text x="494.25" y="209.5" font-size="12.6" text-anchor="middle" textLength="18.2" lengthAdjust="spacingAndGlyphs" >500</text>
<line x1="531.05" y1="193.8" x2="531.05" y2="191.4" stroke="#3a3a3a" stroke-width="1"/>
<text x="531.05" y="209.5" font-size="12.6" text-anchor="middle" textLength="18.2" lengthAdjust="spacingAndGlyphs" >600</text>
<line x1="567.85" y1="193.8" x2="567.85" y2="191.4" stroke="#3a3a3a" stroke-width="1"/>
<text x="567.85" y="209.5" font-size="12.6" text-anchor="middle" textLength="18.2" lengthAdjust="spacingAndGlyphs" >700</text>
<line x1="604.65" y1="193.8" x2="604.65" y2="191.4" stroke="#3a3a3a" stroke-width="1"/>
<text x="604.65" y="209.5" font-size="12.6" text-anchor="middle" textLength="18.2" lengthAdjust="spacingAndGlyphs" >800</text>
<line x1="457.45" y1="114.20" x2="459.65" y2="114.20" stroke="#3a3a3a" stroke-width="1"/>
<text x="454.95" y="115.7" font-size="13.0" text-anchor="end" transform="rotate(-45 454.95 115.7)" >10</text>
<line x1="457.45" y1="140.70" x2="459.65" y2="140.70" stroke="#3a3a3a" stroke-width="1"/>
<text x="454.95" y="142.2" font-size="13.0" text-anchor="end" transform="rotate(-45 454.95 142.2)" >5</text>
<line x1="457.45" y1="167.20" x2="459.65" y2="167.20" stroke="#3a3a3a" stroke-width="1"/>
<text x="454.95" y="168.7" font-size="13.0" text-anchor="end" transform="rotate(-45 454.95 168.7)" >0</text>
<line x1="457.45" y1="193.70" x2="459.65" y2="193.70" stroke="#3a3a3a" stroke-width="1"/>
<text x="452.45" y="197.7" font-size="13.0" text-anchor="end" transform="rotate(-45 452.45 197.7)" >-5</text>
<text x="529.7" y="225.6" font-size="13.0" text-anchor="middle" textLength="52.2" lengthAdjust="spacingAndGlyphs" >Time [sec]</text>
<clipPath id="ic"><rect x="457" y="114" width="150" height="80"/></clipPath>
<g clip-path="url(#ic)">
<polyline points="457.50,168.91 458.70,169.77 459.90,178.13 461.10,162.67 462.30,175.06 463.50,163.04 464.70,180.63 465.90,173.59 467.10,179.99 468.30,170.06 469.50,175.69 470.70,171.46 471.90,169.81 473.10,174.12 474.30,166.68 475.50,171.94 476.70,176.00 477.90,172.22 479.10,170.43 480.30,182.90 481.50,170.77 482.70,169.39 483.90,173.01 485.10,169.09 486.30,170.19 487.50,170.05 488.70,181.21 489.90,169.89 491.10,172.18 492.30,174.06 493.50,180.01 494.70,168.35 495.90,168.06 497.10,182.67 498.30,161.67 499.50,169.87 500.70,173.41 501.90,180.41 503.10,163.88 504.30,159.21 505.50,174.43 506.70,166.39 507.90,168.10 509.10,171.73 510.30,169.92 511.50,170.38 512.70,166.74 513.90,175.31 515.10,174.91 516.30,167.85 517.50,166.47 518.70,172.16 519.90,169.96 521.10,162.95 522.30,166.61 523.50,173.09 524.70,166.54 525.90,166.28 527.10,168.75 528.30,167.08 529.50,167.34 530.70,158.01 531.90,176.74 533.10,166.43 534.30,162.74 535.50,171.96 536.70,167.26 537.90,166.44 539.10,171.32 540.30,176.20 541.50,167.23 542.70,173.33 543.90,174.99 545.10,159.53 546.30,164.07 547.50,169.42 548.70,156.69 549.90,165.30 551.10,171.27 552.30,169.05 553.50,167.05 554.70,155.46 555.90,177.21 557.10,165.27 558.30,167.95 559.50,166.12 560.70,155.76 561.90,158.51 563.10,159.00 564.30,173.66 565.50,158.28 566.70,163.24 567.90,162.30 569.10,166.22 570.30,165.16 571.50,164.08 572.70,156.85 573.90,148.88 575.10,165.63 576.30,163.46 577.50,168.21 578.70,161.03 579.90,159.56 581.10,164.49 582.30,154.29 583.50,158.12 584.70,157.57 585.90,163.66 587.10,171.16 588.30,163.60 589.50,166.39 590.70,161.55 591.90,162.33 593.10,158.62 594.30,159.83 595.50,149.32 596.70,156.58 598.40,156.00 599.00,125.00 599.10,113.50" fill="none" stroke="#3535a5" stroke-width="1.45" stroke-linejoin="round" stroke-linecap="butt" />
<polyline points="457.50,160.13 458.85,164.03 460.20,169.14 461.55,171.06 462.90,169.91 464.25,164.92 465.60,165.00 466.95,162.57 468.30,157.63 469.65,160.02 471.00,166.20 472.35,164.49 473.70,161.74 475.05,158.08 476.40,161.21 477.75,159.75 479.10,161.90 480.45,164.08 481.80,153.11 483.15,159.79 484.50,155.42 485.85,156.63 487.20,155.53 488.55,164.85 489.90,164.81 491.25,164.02 492.60,158.70 493.95,154.70 495.30,158.15 496.65,161.13 498.00,160.52 499.35,163.41 500.70,159.64 502.05,167.61 503.40,164.44 504.75,169.20 506.10,162.91 507.45,159.61 508.80,156.35 510.15,162.38 511.50,164.48 512.85,161.17 514.20,161.45 515.55,158.64 516.90,157.39 518.25,157.57 519.60,151.02 520.95,153.17 522.30,157.82 523.65,159.02 525.00,163.10 526.35,161.96 527.70,160.80 529.05,158.95 530.40,149.03 531.75,156.42 533.10,153.99 534.45,159.05 535.80,156.80 537.15,156.05 538.50,154.98 539.85,155.69 541.20,148.92 542.55,148.96 543.90,160.38 545.25,159.39 546.60,155.52 547.95,155.04 549.30,154.78 550.65,169.45 552.00,161.11 553.35,157.24 554.70,153.62 556.05,145.88 557.40,154.43 558.75,161.22 560.10,160.64 561.45,157.70 562.80,153.46 564.15,150.16 565.50,154.57 566.85,153.36 568.20,150.05 569.55,160.75 570.90,152.18 572.25,152.00 573.60,144.32 574.95,159.46 576.30,154.76 577.65,154.08 579.00,155.34 580.35,150.89 581.70,150.80 583.05,154.46 584.40,150.53 585.75,154.33 587.10,158.67 588.45,157.60 589.80,159.98 591.15,158.97 592.50,161.41 593.85,155.87 595.20,155.25 596.55,148.81 600.50,150.00 601.00,136.00 602.70,113.50" fill="none" stroke="#3a5bbd" stroke-width="1.45" stroke-linejoin="round" stroke-linecap="butt" />
</g>
<polyline points="457.50,183.20 459.25,183.07 461.60,182.89 464.40,182.67 467.50,182.43 470.76,182.18 474.02,181.94 477.15,181.70 480.00,181.50 482.62,181.32 485.18,181.16 487.68,181.01 490.16,180.86 492.61,180.71 495.06,180.55 497.52,180.38 500.00,180.20 502.53,180.00 505.12,179.78 507.72,179.55 510.31,179.32 512.87,179.08 515.35,178.85 517.74,178.62 520.00,178.40 522.11,178.19 524.10,177.99 525.99,177.79 527.81,177.60 529.59,177.41 531.37,177.21 533.16,177.01 535.00,176.80 536.88,176.59 538.75,176.38 540.62,176.17 542.50,175.96 544.38,175.74 546.25,175.50 548.12,175.26 550.00,175.00 551.88,174.72 553.75,174.44 555.62,174.14 557.50,173.82 559.38,173.50 561.25,173.18 563.12,172.84 565.00,172.50 566.91,172.14 568.87,171.77 570.84,171.38 572.81,170.98 574.74,170.59 576.60,170.21 578.36,169.84 580.00,169.50 581.50,169.19 582.90,168.89 584.20,168.61 585.44,168.34 586.62,168.08 587.76,167.82 588.88,167.56 590.00,167.30 591.10,167.03 592.17,166.75 593.20,166.46 594.20,166.18 595.18,165.92 596.13,165.68 597.07,165.47 598.00,165.30 598.95,165.18 599.94,165.10 600.94,165.05 601.90,165.03 602.80,165.02 603.61,165.01 604.28,165.01 604.80,165.00" fill="none" stroke="#ee1c24" stroke-width="2.6" stroke-linejoin="round" stroke-linecap="butt" />
<polyline points="457.50,183.20 459.25,183.07 461.60,182.89 464.40,182.67 467.50,182.43 470.76,182.18 474.02,181.94 477.15,181.70 480.00,181.50 482.62,181.32 485.18,181.16 487.68,181.01 490.16,180.86 492.61,180.71 495.06,180.55 497.52,180.38 500.00,180.20 502.53,180.00 505.12,179.78 507.72,179.55 510.31,179.32 512.87,179.08 515.35,178.85 517.74,178.62 520.00,178.40 522.11,178.19 524.10,177.99 525.99,177.79 527.81,177.60 529.59,177.41 531.37,177.21 533.16,177.01 535.00,176.80 536.88,176.59 538.75,176.38 540.62,176.17 542.50,175.96 544.38,175.74 546.25,175.50 548.12,175.26 550.00,175.00 551.88,174.72 553.75,174.44 555.62,174.14 557.50,173.82 559.38,173.50 561.25,173.18 563.12,172.84 565.00,172.50 566.91,172.14 568.87,171.77 570.84,171.38 572.81,170.98 574.74,170.59 576.60,170.21 578.36,169.84 580.00,169.50 581.50,169.19 582.90,168.89 584.20,168.61 585.44,168.34 586.62,168.08 587.76,167.82 588.88,167.56 590.00,167.30 591.10,167.03 592.17,166.75 593.20,166.46 594.20,166.18 595.18,165.92 596.13,165.68 597.07,165.47 598.00,165.30 598.95,165.18 599.94,165.10 600.94,165.05 601.90,165.03 602.80,165.02 603.61,165.01 604.28,165.01 604.80,165.00" fill="none" stroke="#f4148f" stroke-width="2.8" stroke-linejoin="round" stroke-linecap="butt" stroke-dasharray="2.5 1.5"/>
<polyline points="457.50,121.90 597.60,121.90 604.80,133.40" fill="none" stroke="#660202" stroke-width="1.7" stroke-linejoin="round" stroke-linecap="butt" />
<text x="459.4" y="251.0" font-size="13" text-anchor="start" textLength="57.6" lengthAdjust="spacingAndGlyphs" >Zoomed in</text>
<rect x="441.5" y="25.8" width="163.1" height="67.8" fill="#fff" stroke="#333" stroke-width="1"/>
<line x1="445" y1="34.30" x2="482.4" y2="34.30" stroke="#3535a5" stroke-width="2.4" />
<text x="486" y="38.5" font-size="12.6" text-anchor="start" >FBG A72 (baselined)</text>
<line x1="445" y1="47.50" x2="482.4" y2="47.50" stroke="#3a5bbd" stroke-width="2.4" />
<text x="486" y="51.7" font-size="12.6" text-anchor="start" >FBG A71 (baselined)</text>
<line x1="445" y1="60.70" x2="482.4" y2="60.70" stroke="#ee1c24" stroke-width="2.2" />
<text x="486" y="64.9" font-size="12.6" text-anchor="start" >TH5 avg</text>
<line x1="445" y1="73.90" x2="482.4" y2="73.90" stroke="#f4148f" stroke-width="2.6" stroke-dasharray="2.5 2"/>
<text x="486" y="78.1" font-size="12.6" text-anchor="start" >T3 avg</text>
<line x1="445" y1="87.10" x2="482.4" y2="87.10" stroke="#8a3c3c" stroke-width="1.6" />
<text x="486" y="91.3" font-size="12.6" text-anchor="start" >Sample Current</text>
<line x1="582.3" y1="26.3" x2="582.3" y2="28.2" stroke="#660202" stroke-width="1"/>
</svg>
</body></html>
